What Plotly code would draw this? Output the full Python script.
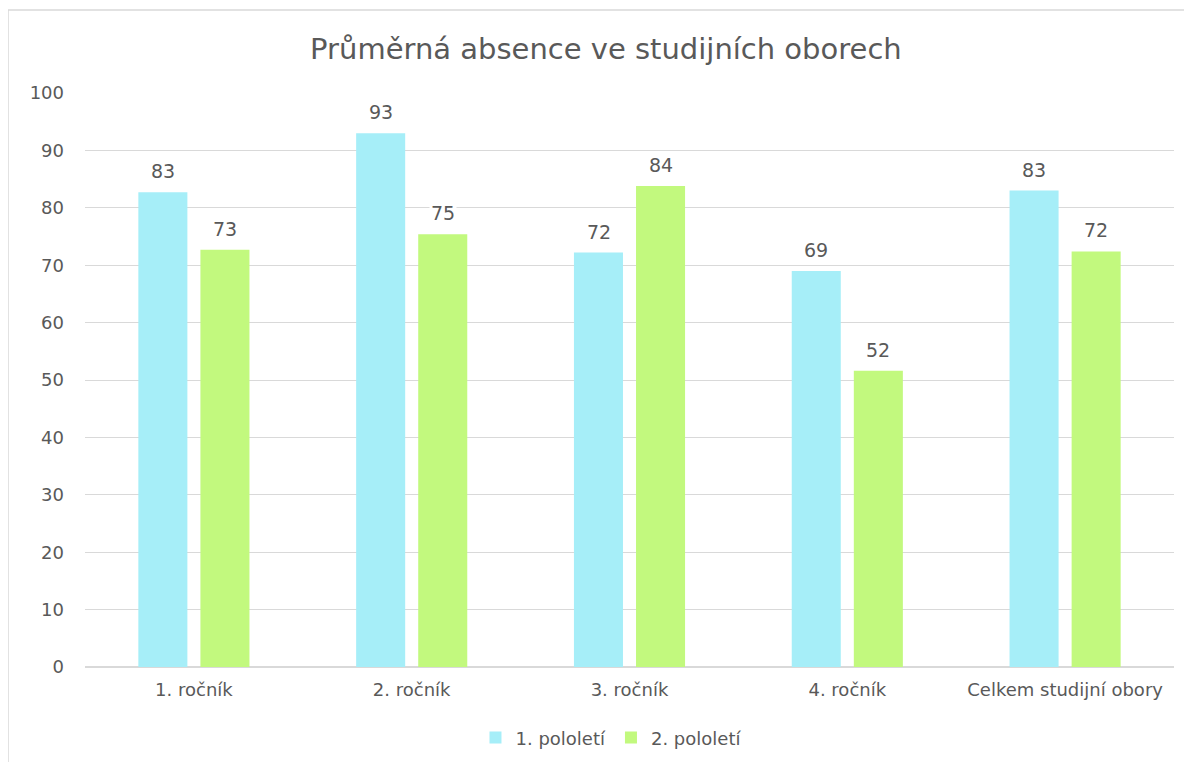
import plotly.graph_objects as go

# Data
categories = ['1. ročník', '2. ročník', '3. ročník', '4. ročník', 'Celkem studijní obory']
pololeti_1 = [82.7, 93.0, 72.2, 69.0, 83.0]
pololeti_2 = [72.7, 75.4, 83.8, 51.6, 72.4]
series_names = ['1. pololetí', '2. pololetí']
colors = ['#A6EEF8', '#C2F97E']

FONT = 'DejaVu Sans'
GREY = '#595959'

fig = go.Figure()
for name, vals, col in zip(series_names, [pololeti_1, pololeti_2], colors):
    fig.add_trace(go.Bar(
        x=categories, y=vals, name=name,
        marker=dict(color=col, line=dict(width=0)),
    ))

# data labels with white background (they cut the gridlines like in Excel)
for i, vals in enumerate([pololeti_1, pololeti_2]):
    for cat, v in zip(categories, vals):
        fig.add_annotation(
            x=cat, y=v, xref='x', yref='y',
            text=f'{v:.0f}', showarrow=False,
            xshift=-31 if i == 0 else 31, yshift=8,
            yanchor='bottom', bgcolor='white',
            font=dict(family=FONT, size=19, color=GREY),
        )

# the page body has an 8px margin, so the figure is a bit smaller than the window
fig.update_layout(
    width=1184, height=754,
    paper_bgcolor='white', plot_bgcolor='white',
    margin=dict(l=77, r=18, t=85, b=95, autoexpand=False),
    title=dict(text='Průměrná absence ve studijních oborech', x=0.505, xanchor='center',
               y=0.946, yanchor='middle',
               font=dict(family=FONT, size=29, color=GREY)),
    barmode='group', bargap=0.43, bargroupgap=0.21,
    font=dict(family=FONT, size=18, color=GREY),
    legend=dict(orientation='h', x=0.483, xanchor='center',
                yref='container', y=0.032, yanchor='middle',
                font=dict(family=FONT, size=18, color=GREY)),
    showlegend=True,
)
fig.update_yaxes(range=[0, 100], dtick=10, showgrid=True, gridcolor='#D9D9D9', gridwidth=1,
                 zeroline=True, zerolinecolor='#D9D9D9', zerolinewidth=1.5,
                 ticks='', ticklabelstandoff=20, tickfont=dict(size=18, color=GREY))
fig.update_xaxes(showline=False, ticks='', ticklabelstandoff=10,
                 tickfont=dict(size=18, color=GREY))

# light outer border of the chart (only left and top edges are visible)
fig.add_shape(type='rect', xref='paper', yref='paper',
              x0=-0.0707, x1=1.2, y0=-0.4, y1=1.1446,
              line=dict(color='#D9D9D9', width=1.5))

fig.write_html('out.html')
